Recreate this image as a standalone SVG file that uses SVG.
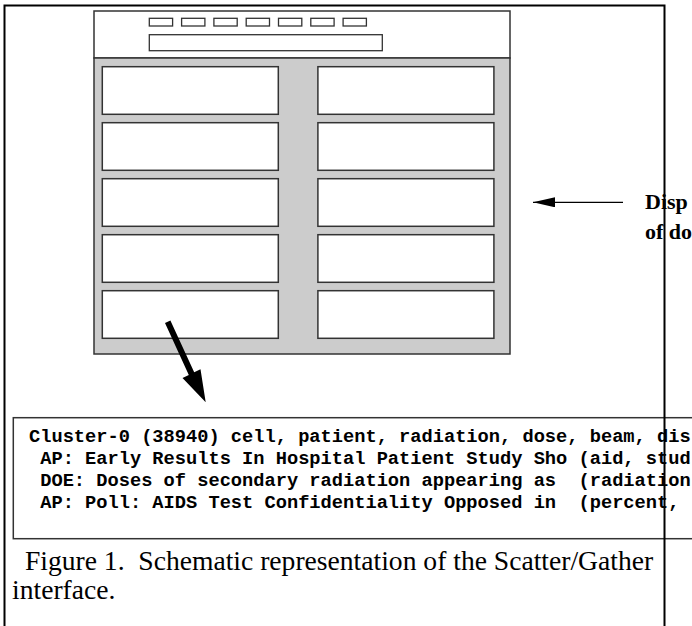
<svg xmlns="http://www.w3.org/2000/svg" width="692" height="626" viewBox="0 0 692 626">
<style>
.box{fill:#fff;stroke:#333;stroke-width:1.5}
.btn{fill:#fff;stroke:#333;stroke-width:1.3}
.mono{font-family:"Liberation Mono","Courier New",monospace;font-weight:bold;font-size:18.7px;fill:#000;white-space:pre}
.cap{font-family:"Liberation Serif","Times New Roman",serif;font-size:27.6px;fill:#000;white-space:pre}
.lbl{font-family:"Liberation Serif","Times New Roman",serif;font-weight:bold;font-size:22px;fill:#000}
.frame{stroke:#000;stroke-width:2;fill:none}
</style>
<defs>
<marker id="ah" viewBox="0 0 22 10" refX="22" refY="5" markerWidth="22" markerHeight="10" markerUnits="userSpaceOnUse" orient="auto">
<path d="M0,0 L22,5 L0,10 z" fill="#000"/>
</marker>
</defs>
<g id="window">
<rect x="94" y="11" width="416" height="47" class="box"/>
<g id="buttons">
<rect x="149.3" y="18.3" width="23.3" height="7.7" class="btn"/>
<rect x="181.6" y="18.3" width="23.3" height="7.7" class="btn"/>
<rect x="213.9" y="18.3" width="23.3" height="7.7" class="btn"/>
<rect x="246.2" y="18.3" width="23.3" height="7.7" class="btn"/>
<rect x="278.5" y="18.3" width="23.3" height="7.7" class="btn"/>
<rect x="310.8" y="18.3" width="23.3" height="7.7" class="btn"/>
<rect x="343.1" y="18.3" width="23.3" height="7.7" class="btn"/>
</g>
<rect id="field" x="149.3" y="34.7" width="233" height="16" class="btn"/>
<rect id="panel" x="94" y="58" width="416" height="296" fill="#cccccc" stroke="#333" stroke-width="1.5"/>
</g>
<g id="cells">
<rect x="102.3" y="66.7" width="176" height="47.6" class="box"/>
<rect x="102.3" y="122.7" width="176" height="47.6" class="box"/>
<rect x="102.3" y="178.7" width="176" height="47.6" class="box"/>
<rect x="102.3" y="234.7" width="176" height="47.6" class="box"/>
<rect x="102.3" y="290.7" width="176" height="47.6" class="box"/>
<rect x="317.9" y="66.7" width="176" height="47.6" class="box"/>
<rect x="317.9" y="122.7" width="176" height="47.6" class="box"/>
<rect x="317.9" y="178.7" width="176" height="47.6" class="box"/>
<rect x="317.9" y="234.7" width="176" height="47.6" class="box"/>
<rect x="317.9" y="290.7" width="176" height="47.6" class="box"/>
</g>
<g id="label">
<text class="lbl" x="645" y="209">Disp</text>
<text class="lbl" x="645" y="239">of do</text>
</g>
<g id="cluster-box">
<rect x="13.3" y="417.7" width="700" height="121" class="box"/>
<text class="mono" x="29" y="442">Cluster-0 (38940) cell, patient, radiation, dose, beam, dis</text>
<text class="mono" x="29" y="464"> AP: Early Results In Hospital Patient Study Sho (aid, stud</text>
<text class="mono" x="29" y="486"> DOE: Doses of secondary radiation appearing as  (radiation</text>
<text class="mono" x="29" y="508"> AP: Poll: AIDS Test Confidentiality Opposed in  (percent,</text>
</g>
<g id="connectors">
<line x1="623" y1="202.3" x2="533" y2="202.3" stroke="#000" stroke-width="1.3" marker-end="url(#ah)"/>
<polygon points="165,323 170.4,320.4 194.2,372.3 200.5,369.2 205.7,402.3 182.5,378 188.8,374.9" fill="#000"/>
</g>
<g id="caption">
<text class="cap" x="18" y="570"> Figure 1.  Schematic representation of the Scatter/Gather</text>
<text class="cap" x="12" y="599">interface.</text>
</g>
<g id="frame">
<path class="frame" d="M4.5,626 V5.5 H664.5 V626"/>
</g>
</svg>
